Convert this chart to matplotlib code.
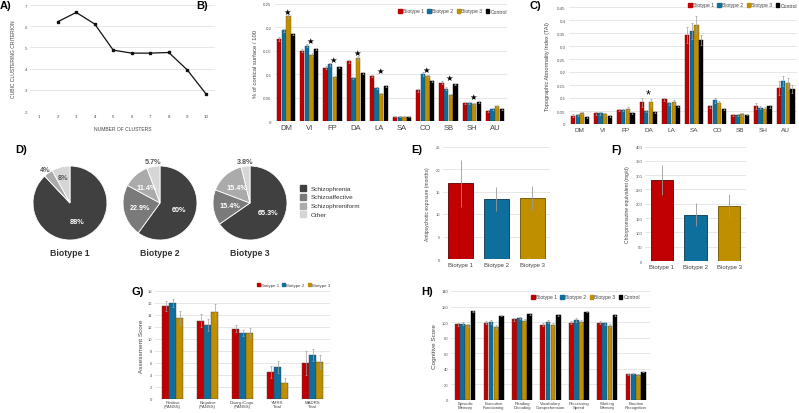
import matplotlib
matplotlib.use("Agg")
import matplotlib.pyplot as plt
import numpy as np
from matplotlib.patches import Rectangle

plt.rcParams['font.family'] = ['Liberation Sans', 'DejaVu Sans']

# ---------------- data ----------------
n_clusters = [2, 3, 4, 5, 6, 7, 8, 9, 10]
ccc = [6.21, 6.65, 6.10, 4.87, 4.73, 4.73, 4.76, 3.94, 2.82]

regions = ['DM', 'VI', 'FP', 'DA', 'LA', 'SA', 'CO', 'SB', 'SH', 'AU']
groups4 = ['Biotype 1', 'Biotype 2', 'Biotype 3', 'Control']

surf_b1 = [0.175, 0.150, 0.114, 0.128, 0.096, 0.009, 0.066, 0.082, 0.038, 0.022]
surf_b2 = [0.194, 0.161, 0.121, 0.092, 0.070, 0.009, 0.100, 0.069, 0.039, 0.026]
surf_b3 = [0.224, 0.142, 0.094, 0.135, 0.058, 0.009, 0.096, 0.055, 0.036, 0.031]
surf_ct = [0.185, 0.153, 0.116, 0.102, 0.075, 0.009, 0.085, 0.078, 0.041, 0.026]
surf_e1 = [0.004, 0.003, 0.003, 0.003, 0.003, 0.001, 0.003, 0.003, 0.002, 0.002]
surf_e2 = [0.003, 0.003, 0.003, 0.002, 0.002, 0.001, 0.004, 0.003, 0.002, 0.002]
surf_e3 = [0.004, 0.003, 0.003, 0.004, 0.002, 0.001, 0.003, 0.003, 0.002, 0.002]
surf_ec = [0.002, 0.002, 0.002, 0.002, 0.002, 0.001, 0.002, 0.002, 0.002, 0.002]
surf_sig = ['DM', 'VI', 'FP', 'DA', 'LA', 'CO', 'SB', 'SH']

tai_b1 = [0.032, 0.042, 0.054, 0.083, 0.095, 0.342, 0.069, 0.036, 0.069, 0.138]
tai_b2 = [0.035, 0.042, 0.054, 0.050, 0.079, 0.358, 0.091, 0.036, 0.063, 0.165]
tai_b3 = [0.044, 0.037, 0.058, 0.083, 0.085, 0.382, 0.081, 0.038, 0.058, 0.156]
tai_ct = [0.026, 0.031, 0.042, 0.047, 0.069, 0.322, 0.059, 0.036, 0.068, 0.135]
tai_e1 = [0.005, 0.006, 0.005, 0.017, 0.006, 0.030, 0.006, 0.004, 0.010, 0.027]
tai_e2 = [0.004, 0.006, 0.004, 0.005, 0.006, 0.030, 0.010, 0.004, 0.006, 0.018]
tai_e3 = [0.004, 0.005, 0.006, 0.013, 0.007, 0.032, 0.007, 0.006, 0.007, 0.020]
tai_ec = [0.003, 0.003, 0.003, 0.003, 0.004, 0.020, 0.004, 0.003, 0.007, 0.016]
tai_sig = ['DA']

diagnoses = ['Schizophrenia', 'Schizoaffective', 'Schizophreniform', 'Other']
pie_b1 = [88, 0, 4, 8]
pie_b2 = [60, 22.9, 11.4, 5.7]
pie_b3 = [65.3, 15.4, 15.4, 3.8]

biotypes = ['Biotype 1', 'Biotype 2', 'Biotype 3']
ap_exposure = [16.8, 13.3, 13.5]
ap_err = [5.2, 2.6, 2.7]
cpz = [283, 162, 192]
cpz_err = [54, 40, 42]

assess_labels = ['Positive\n(PANSS)', 'Negative\n(PANSS)', 'Disorg./Cogn.\n(PANSS)',
                 'YMRS\nTotal', 'MADRS\nTotal']
g_b1 = [15.5, 13.06, 11.75, 4.54, 6.07]
g_b2 = [15.96, 12.35, 10.93, 5.36, 7.38]
g_b3 = [13.5, 14.43, 11.04, 2.73, 6.17]
g_e1 = [0.8, 1.1, 0.65, 1.0, 2.0]
g_e2 = [0.7, 1.0, 0.5, 1.0, 1.0]
g_e3 = [1.1, 1.4, 0.8, 0.8, 1.1]

cog_labels = ['Episodic\nMemory', 'Executive\nFunctioning', 'Reading\nDecoding',
              'Vocabulary\nComprehension', 'Processing\nSpeed', 'Working\nMemory',
              'Emotion\nRecognition']
h_b1 = [97.3, 99.4, 103.5, 96.9, 99.4, 99.4, 33.0]
h_b2 = [98.1, 100.2, 105.2, 100.6, 102.3, 98.6, 33.8]
h_b3 = [96.1, 94.0, 101.9, 96.9, 100.6, 95.3, 32.2]
h_ct = [113.8, 108.5, 110.5, 108.9, 113.4, 108.9, 35.9]
h_e1 = [2.0, 2.0, 1.5, 2.0, 2.0, 2.0, 0.8]
h_e2 = [2.0, 2.5, 1.5, 2.0, 2.5, 2.0, 0.8]
h_e3 = [2.0, 2.5, 2.0, 2.0, 2.5, 2.0, 0.8]
h_ec = [1.0, 1.0, 1.0, 1.0, 1.0, 1.0, 0.5]

# ---------------- style ----------------
C_RED, C_BLUE, C_GOLD, C_BLACK = '#c00000', '#0f6f9c', '#bf8f00', '#000000'
E_RED, E_BLUE, E_GOLD, E_BLACK = '#7a0000', '#0a4a68', '#7f6000', '#000000'
PIE_COLORS = ['#404040', '#7a7a7a', '#ababab', '#d6d6d6']
GRID = '#e3e3e3'
TXT = '#444444'

W, H = 799, 414
fig = plt.figure(figsize=(W / 100, H / 100), dpi=100)


def ax_px(l, t, r, b):
    return fig.add_axes([l / W, 1 - b / H, (r - l) / W, (b - t) / H])


def txt_px(x, y, s, **kw):
    fig.text(x / W, 1 - y / H, s, **kw)


def style(ax, yfs=3.2, xfs=4, xpad=2):
    for s in ax.spines.values():
        s.set_visible(False)
    ax.grid(axis='y', color=GRID, lw=0.6)
    ax.set_axisbelow(True)
    ax.tick_params(length=0, pad=2)
    ax.tick_params(axis='x', pad=xpad)
    ax.tick_params(axis='y', labelsize=yfs, labelcolor='#555555')
    ax.tick_params(axis='x', labelsize=xfs, labelcolor=TXT)


def grouped(ax, cats, series, errs, colors, edges, width):
    x = np.arange(len(cats))
    n = len(series)
    for i, (vals, e, c, ec) in enumerate(zip(series, errs, colors, edges)):
        off = (i - (n - 1) / 2) * width
        ax.bar(x + off, vals, width * 0.92, color=c, edgecolor=ec, linewidth=0.3,
               yerr=e, error_kw=dict(ecolor='#a0a0a0', elinewidth=0.5, capsize=1,
                                     capthick=0.5))
    ax.set_xticks(x, cats)
    ax.set_xlim(-0.5, len(cats) - 0.5)


def legend_px(ax, labels, colors, x_right, y_center, fs):
    handles = [Rectangle((0, 0), 1, 1, color=c) for c in colors]
    ax.legend(handles, labels, loc='center right',
              bbox_to_anchor=(x_right / W, 1 - y_center / H),
              bbox_transform=fig.transFigure, ncol=len(labels), frameon=False,
              fontsize=fs, handlelength=0.7, handleheight=0.7, handletextpad=0.25,
              columnspacing=0.7, borderaxespad=0, borderpad=0, labelcolor=TXT)


def panel_label(x, y, s):
    txt_px(x, y, s, fontsize=8, fontweight='bold', va='center', ha='left')


# ---------------- A ----------------
axA = ax_px(30, 6, 215, 112)
style(axA, yfs=3.2, xfs=3.2)
axA.plot(n_clusters, ccc, color='#111111', lw=0.9, marker='s', ms=2)
axA.set_xlim(0.5, 10.5)
axA.set_ylim(2, 7)
axA.set_xticks(range(1, 11))
axA.set_yticks(range(2, 8))
axA.set_xlabel('NUMBER OF CLUSTERS', fontsize=3.6, color=TXT, labelpad=6)
axA.set_ylabel('CUBIC CLUSTERING CRITERION', fontsize=3.6, color=TXT, labelpad=6)
panel_label(0, 6, 'A)')

# ---------------- B ----------------
axB = ax_px(274.5, 5, 506.5, 122)
style(axB, yfs=3.2, xfs=5.5)
grouped(axB, regions, [surf_b1, surf_b2, surf_b3, surf_ct],
        [surf_e1, surf_e2, surf_e3, surf_ec],
        [C_RED, C_BLUE, C_GOLD, C_BLACK], [E_RED, E_BLUE, E_GOLD, E_BLACK], 0.2)
axB.set_ylim(0, 0.25)
axB.set_yticks([0, 0.05, 0.1, 0.15, 0.2, 0.25], ['0', '0.05', '0.1', '0.15', '0.2', '0.25'])
axB.set_ylabel('% of cortical surface / 100', fontsize=4.2, color=TXT, labelpad=4)
for r in surf_sig:
    i = regions.index(r)
    top = max(surf_b1[i], surf_b2[i], surf_b3[i], surf_ct[i])
    axB.text(i + 0.05, top + 0.011, '★', ha='center', va='center', fontsize=6,
             family='DejaVu Sans')
legend_px(axB, groups4, [C_RED, C_BLUE, C_GOLD, C_BLACK], 507, 12, 3.6)
panel_label(196, 6, 'B)')

# ---------------- C ----------------
axC = ax_px(568.5, 8, 797, 125)
style(axC, yfs=3.2, xfs=4.6)
grouped(axC, regions, [tai_b1, tai_b2, tai_b3, tai_ct],
        [tai_e1, tai_e2, tai_e3, tai_ec],
        [C_RED, C_BLUE, C_GOLD, C_BLACK], [E_RED, E_BLUE, E_GOLD, E_BLACK], 0.2)
axC.set_ylim(0, 0.45)
axC.set_yticks(np.arange(0, 0.46, 0.05),
               ['0', '0.05', '0.1', '0.15', '0.2', '0.25', '0.3', '0.35', '0.4', '0.45'])
axC.set_ylabel('Topographic Abnormality Index (TAI)', fontsize=4.0, color=TXT, labelpad=5)
for r in tai_sig:
    i = regions.index(r)
    top = max(tai_b1[i] + tai_e1[i], tai_b3[i] + tai_e3[i])
    axC.text(i, top + 0.012, '*', ha='center', va='center', fontsize=9)
legend_px(axC, groups4, [C_RED, C_BLUE, C_GOLD, C_BLACK], 797, 6, 3.6)
panel_label(529, 6, 'C)')

# ---------------- D ----------------
panel_label(15, 150, 'D)')
for cx, vals, name in [(70, pie_b1, 'Biotype 1'), (160, pie_b2, 'Biotype 2'),
                       (250, pie_b3, 'Biotype 3')]:
    axp = ax_px(cx - 40, 204 - 40, cx + 40, 204 + 40)
    wedges, _ = axp.pie(vals, colors=PIE_COLORS, startangle=90, counterclock=False,
                        radius=0.925, wedgeprops=dict(edgecolor='white', linewidth=0.6))
    axp.set_xlim(-1, 1)
    axp.set_ylim(-1, 1)
    axp.set_aspect('auto')
    axp.axis('off')
    for k, (w, v) in enumerate(zip(wedges, vals)):
        if v <= 0:
            continue
        ang = np.deg2rad((w.theta1 + w.theta2) / 2)
        if v < 7:
            rr, col = 1.13, '#555555'
        elif k == 3:
            rr, col = 0.72, '#555555'
        else:
            rr, col = 0.55, 'white'
        axp.text(rr * 0.925 * np.cos(ang), rr * 0.925 * np.sin(ang), f'{v:g}%',
                 ha='center', va='center', fontsize=5.2, color=col, fontweight='bold')
    txt_px(cx, 254, name, ha='center', va='center', fontsize=6.3, color='#333333',
           fontweight='bold')

for k, (lab, col) in enumerate(zip(diagnoses, PIE_COLORS)):
    y = 189 + k * 8.8
    fig.patches.append(Rectangle(((300) / W, 1 - (y + 3) / H), 6 / W, 6 / H,
                                 transform=fig.transFigure, color=col))
    txt_px(311, y, lab, ha='left', va='center', fontsize=4.6, color='#333333')

# ---------------- E ----------------
axE = ax_px(443, 147.5, 550, 260)
style(axE, yfs=3.0, xfs=4.3)
axE.bar(range(3), ap_exposure, 0.7, color=[C_RED, C_BLUE, C_GOLD],
        edgecolor=['#5a0000', '#08384f', '#6a5200'], linewidth=0.6,
        yerr=ap_err, error_kw=dict(ecolor='#9a9a9a', elinewidth=0.6, capsize=0))
axE.set_xticks(range(3), biotypes)
axE.set_xlim(-0.5, 2.5)
axE.set_ylim(0, 25)
axE.set_yticks(range(0, 26, 5))
axE.set_ylabel('Antipsychotic exposure (months)', fontsize=3.6, color=TXT, labelpad=4)
panel_label(411, 150, 'E)')

# ---------------- F ----------------
axF = ax_px(645, 147.5, 746, 262)
style(axF, yfs=3.0, xfs=4.3)
axF.bar(range(3), cpz, 0.67, color=[C_RED, C_BLUE, C_GOLD],
        edgecolor=['#5a0000', '#08384f', '#6a5200'], linewidth=0.6,
        yerr=cpz_err, error_kw=dict(ecolor='#9a9a9a', elinewidth=0.6, capsize=0))
axF.set_xticks(range(3), biotypes)
axF.set_xlim(-0.5, 2.5)
axF.set_ylim(0, 400)
axF.set_yticks(range(0, 401, 50))
axF.set_ylabel('Chlorpromazine equivalent (mg/d)', fontsize=3.6, color=TXT, labelpad=4)
panel_label(611, 150, 'F)')

# ---------------- G ----------------
axG = ax_px(155, 292, 330, 400)
style(axG, yfs=3.0, xfs=3.1, xpad=0.8)
grouped(axG, assess_labels, [g_b1, g_b2, g_b3], [g_e1, g_e2, g_e3],
        [C_RED, C_BLUE, C_GOLD], ['#444444', '#444444', '#444444'], 0.2)
for t in axG.get_xticklabels():
    t.set_linespacing(1.0)
axG.set_ylim(0, 18)
axG.set_yticks(range(0, 19, 2))
axG.set_ylabel('Assessment Score', fontsize=4.6, color=TXT, labelpad=3)
legend_px(axG, biotypes, [C_RED, C_BLUE, C_GOLD], 330, 286, 3.2)
panel_label(131, 292, 'G)')

# ---------------- H ----------------
axH = ax_px(451, 292, 650, 401)
style(axH, yfs=3.0, xfs=3.1, xpad=0.8)
grouped(axH, cog_labels, [h_b1, h_b2, h_b3, h_ct], [h_e1, h_e2, h_e3, h_ec],
        [C_RED, C_BLUE, C_GOLD, C_BLACK], ['#444444', '#444444', '#444444', '#000000'], 0.18)
for t in axH.get_xticklabels():
    t.set_linespacing(1.0)
axH.set_ylim(0, 140)
axH.set_yticks(range(0, 141, 20))
axH.set_ylabel('Cognitive Score', fontsize=4.6, color=TXT, labelpad=3)
legend_px(axH, groups4, [C_RED, C_BLUE, C_GOLD, C_BLACK], 640, 298, 3.6)
panel_label(421, 292, 'H)')

fig.savefig('out.png', dpi=100)
